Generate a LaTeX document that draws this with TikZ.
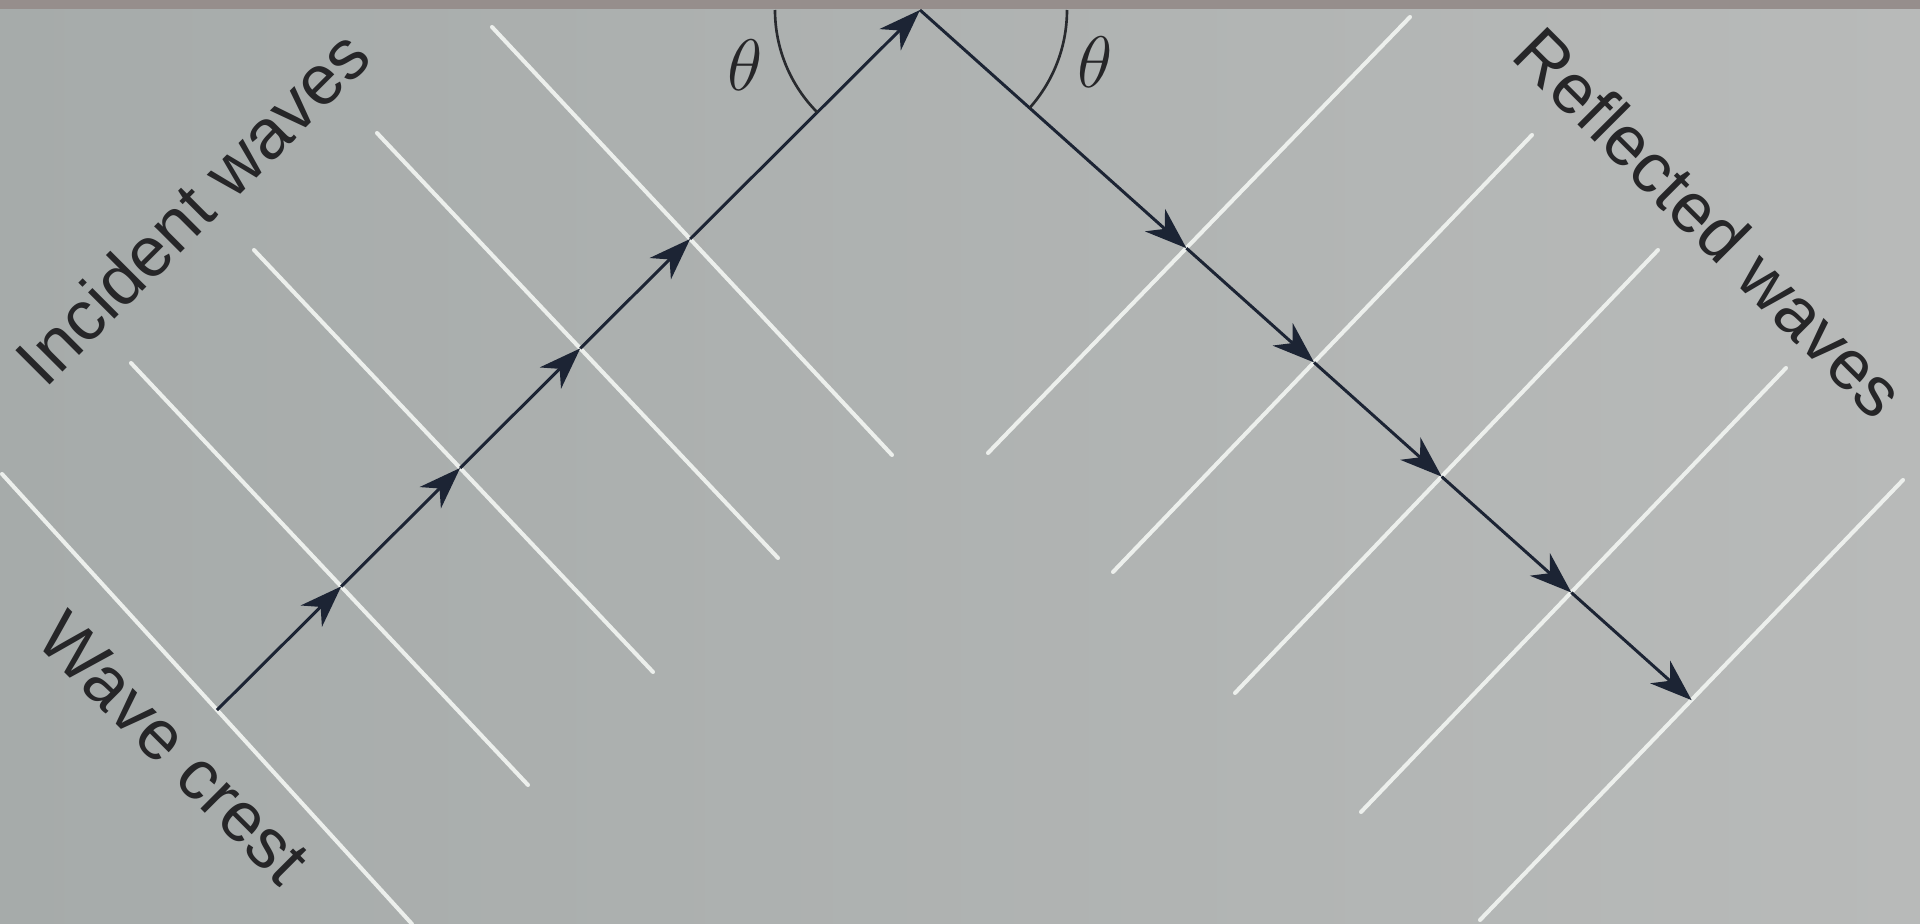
\documentclass[tikz,border=0pt]{standalone}
\usepackage{fontspec}
\setmainfont{Liberation Sans}
\usetikzlibrary{arrows.meta,calc}
\definecolor{bgL}{RGB}{166,171,170}
\definecolor{bgR}{RGB}{184,186,185}
\definecolor{topstrip}{RGB}{150,142,140}
\definecolor{crestc}{RGB}{236,239,236}
\definecolor{rayc}{RGB}{28,36,52}
\definecolor{arcc}{RGB}{40,42,46}
\definecolor{txtc}{RGB}{38,38,40}
\tikzset{
  crestline/.style={draw=crestc, line width=1.15pt, line cap=round},
  rayseg/.style={draw=rayc, line width=0.85pt, -{Stealth[length=0.42cm,width=0.30cm,inset=0.13cm]}},
  anglearc/.style={draw=arcc, line width=0.75pt},
  lbl/.style={text=txtc, inner sep=0pt, font=\fontsize{20}{24}\selectfont},
  thlbl/.style={text=txtc, inner sep=0pt, font=\fontsize{21}{25}\selectfont},
}
\begin{document}
\begin{tikzpicture}[x=0.01cm,y=0.01cm]
\useasboundingbox (0,0) rectangle (1920,-924);
\fill[left color=bgL, right color=bgR] (0,0) rectangle (1920,-924);
\fill[topstrip] (0,0) rectangle (1920,-9);

% incident wave crests
\coordinate (i1a) at (2,-474);   \coordinate (i1b) at (412,-924);
\coordinate (i2a) at (131,-363); \coordinate (i2b) at (528,-785);
\coordinate (i3a) at (254,-250); \coordinate (i3b) at (653,-672);
\coordinate (i4a) at (377,-133); \coordinate (i4b) at (778,-558);
\coordinate (i5a) at (492,-27);  \coordinate (i5b) at (892,-455);
% reflected wave crests
\coordinate (r1a) at (988,-453);  \coordinate (r1b) at (1410,-17);
\coordinate (r2a) at (1113,-572); \coordinate (r2b) at (1532,-135);
\coordinate (r3a) at (1235,-693); \coordinate (r3b) at (1658,-250);
\coordinate (r4a) at (1361,-812); \coordinate (r4b) at (1786,-368);
\coordinate (r5a) at (1480,-920); \coordinate (r5b) at (1903,-480);

\foreach \n in {i1,i2,i3,i4,i5,r1,r2,r3,r4,r5}
  \draw[crestline] (\n a) -- (\n b);

% ray geometry
\coordinate (A) at (920,-10);
\coordinate (Sdir) at (220,-707);
\coordinate (Rdir) at (1688,-697);
\coordinate (S) at (intersection of A--Sdir and i1a--i1b);
\coordinate (c2) at (intersection of A--Sdir and i2a--i2b);
\coordinate (c3) at (intersection of A--Sdir and i3a--i3b);
\coordinate (c4) at (intersection of A--Sdir and i4a--i4b);
\coordinate (c5) at (intersection of A--Sdir and i5a--i5b);
\coordinate (d1) at (intersection of A--Rdir and r1a--r1b);
\coordinate (d2) at (intersection of A--Rdir and r2a--r2b);
\coordinate (d3) at (intersection of A--Rdir and r3a--r3b);
\coordinate (d4) at (intersection of A--Rdir and r4a--r4b);
\coordinate (E)  at (intersection of A--Rdir and r5a--r5b);

% incident ray
\draw[rayseg] (S) -- (c2);
\draw[rayseg] (c2) -- (c3);
\draw[rayseg] (c3) -- (c4);
\draw[rayseg] (c4) -- (c5);
\draw[rayseg] (c5) -- (A);
% reflected ray
\draw[rayseg] (A) -- (d1);
\draw[rayseg] (d1) -- (d2);
\draw[rayseg] (d2) -- (d3);
\draw[rayseg] (d3) -- (d4);
\draw[rayseg] (d4) -- (E);

% angle arcs
\draw[anglearc] (A) ++(180:145) arc[start angle=180, end angle=224.9, radius=145];
\draw[anglearc] (A) ++(0:147) arc[start angle=0, end angle=-41.8, radius=147];

% labels
\node[thlbl] (thL) at (745,-65) {$\theta$};
\node[thlbl] (thR) at (1095,-62) {$\theta$};
\node[lbl, rotate=45] (inc) at (192,-207) {Incident waves};
\node[lbl, rotate=-45] (crest) at (174,-748) {Wave crest};
\node[lbl, rotate=-45] (refl) at (1710,-222) {Reflected waves};
\end{tikzpicture}
\end{document}
